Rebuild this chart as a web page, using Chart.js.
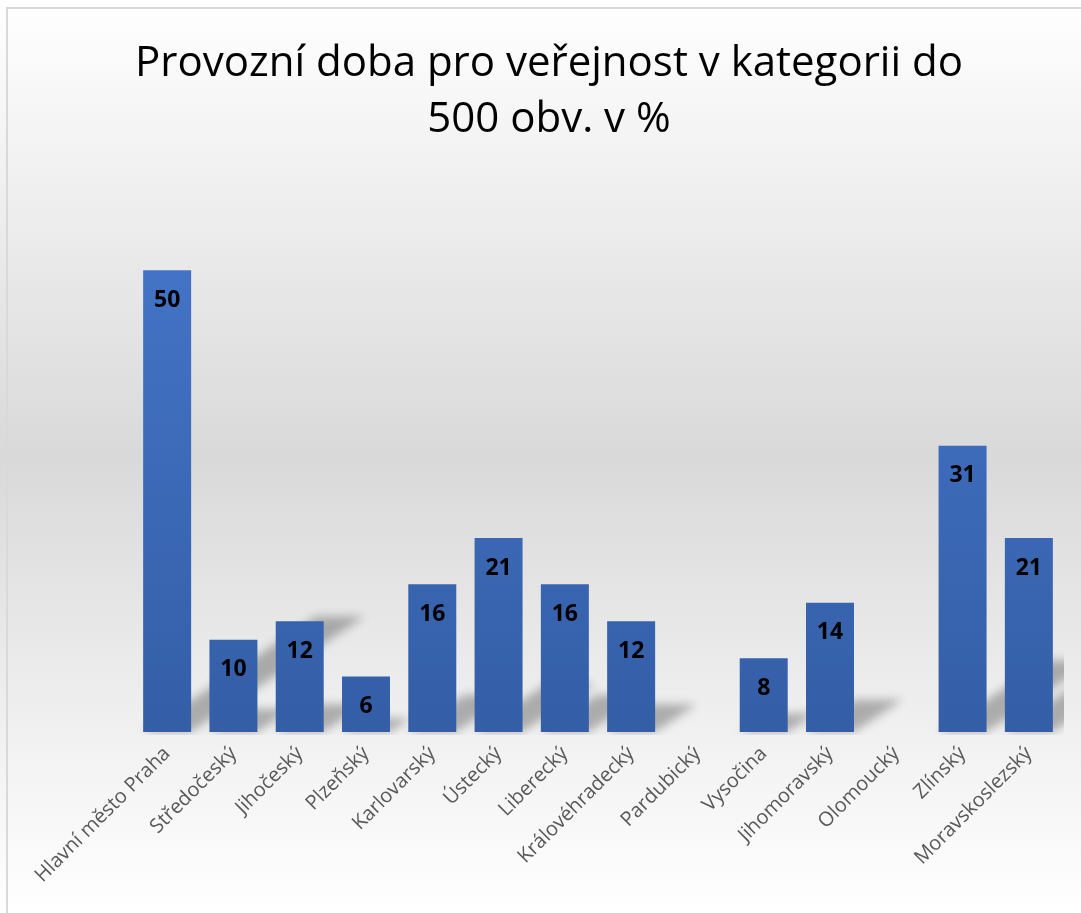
<!DOCTYPE html>
<html>
<head>
<meta charset="utf-8">
<script src="https://cdn.jsdelivr.net/npm/chart.js@4"></script>
<style>
html,body{margin:0;padding:0;background:#fff;}
#wrap{position:relative;width:1081px;height:913px;}
</style>
</head>
<body>
<div id="wrap"><canvas id="c" width="1081" height="913"></canvas></div>
<script>
const categories = ["Hlavní město Praha","Středočeský","Jihočeský","Plzeňský","Karlovarský","Ústecký","Liberecký","Královéhradecký","Pardubický","Vysočina","Jihomoravský","Olomoucký","Zlínský","Moravskoslezský"];
const values = [50,10,12,6,16,21,16,12,0,8,14,0,31,21];
const titleLines = ["Provozní doba pro veřejnost v kategorii do","500 obv. v %"];

const bgPlugin = {
  id:'bg',
  beforeDraw(chart){
    const ctx = chart.ctx, w = chart.width, h = chart.height;
    const g = ctx.createLinearGradient(0,0,0,h);
    g.addColorStop(0,'#ffffff');
    g.addColorStop(0.12,'#f6f6f6');
    g.addColorStop(0.5,'#d9d9d9');
    g.addColorStop(0.82,'#f2f2f2');
    g.addColorStop(1,'#ffffff');
    ctx.save();
    ctx.fillStyle = g;
    ctx.fillRect(0,0,w,h);
    ctx.strokeStyle = '#d9d9d9';
    ctx.lineWidth = 2;
    ctx.beginPath();
    ctx.moveTo(7,h+5); ctx.lineTo(7,8); ctx.lineTo(w+5,8);
    ctx.stroke();
    ctx.restore();
  }
};

const shadowPlugin = {
  id:'shadow',
  beforeDatasetsDraw(chart){
    const ctx = chart.ctx, a = chart.chartArea;
    const meta = chart.getDatasetMeta(0);
    ctx.save();
    ctx.beginPath();
    ctx.rect(a.left-20, a.top, a.right-a.left+22, a.bottom-a.top+3);
    ctx.clip();
    ctx.filter = 'blur(5px)';
    ctx.fillStyle = 'rgba(0,0,0,0.28)';
    meta.data.forEach(bar=>{
      const p = bar.getProps(['x','y','base','width'],true);
      const h = p.base - p.y;
      if(h<=0) return;
      const sh = h*0.25, dx = sh*1.5;
      const x0 = p.x - p.width/2, x1 = p.x + p.width/2;
      ctx.beginPath();
      ctx.moveTo(x0, p.base);
      ctx.lineTo(x1, p.base);
      ctx.lineTo(x1+dx, p.base-sh);
      ctx.lineTo(x0+dx, p.base-sh);
      ctx.closePath();
      ctx.fill();
    });
    ctx.restore();
  }
};

const labelPlugin = {
  id:'vals',
  afterDatasetsDraw(chart){
    const ctx = chart.ctx;
    const meta = chart.getDatasetMeta(0);
    ctx.save();
    ctx.font = 'bold 23px "Open Sans", sans-serif';
    ctx.fillStyle = '#000';
    ctx.textAlign = 'center';
    ctx.textBaseline = 'middle';
    meta.data.forEach((bar,i)=>{
      const v = values[i];
      if(!v) return;
      ctx.fillText(String(v), bar.x, bar.y + 30);
    });
    ctx.restore();
  }
};

const ctx = document.getElementById('c').getContext('2d');
function barGrad(context){
  const chart = context.chart;
  const a = chart.chartArea;
  if(!a) return '#4472c4';
  const g = chart.ctx.createLinearGradient(0,a.top,0,a.bottom);
  g.addColorStop(0,'#4677cc');
  g.addColorStop(1,'#345ea6');
  return g;
}
new Chart(ctx,{
  type:'bar',
  data:{labels:categories,datasets:[{data:values,backgroundColor:barGrad,borderWidth:0,barPercentage:0.724,categoryPercentage:1}]},
  plugins:[bgPlugin,shadowPlugin,labelPlugin],
  options:{
    responsive:false,
    animation:false,
    devicePixelRatio:1,
    layout:{padding:{left:17,right:0,top:0,bottom:0}},
    plugins:{
      legend:{display:false},
      tooltip:{enabled:false},
      title:{display:true,text:titleLines,color:'#000',font:{family:'"Open Sans", sans-serif',size:42,weight:'normal',lineHeight:1.333},padding:{top:36,bottom:30}}
    },
    scales:{
      x:{
        grid:{display:false,drawTicks:false},
        border:{display:false},
        ticks:{color:'#595959',font:{family:'"Open Sans", sans-serif',size:20},maxRotation:45,minRotation:45,padding:10,autoSkip:false},
        afterFit(s){ s.height = 913-732; }
      },
      y:{display:true,min:0,max:60,grid:{display:false},border:{display:false},ticks:{display:false},afterFit(s){ s.width = 117; }},
      y2:{type:'linear',position:'right',display:true,grid:{display:false},border:{display:false},ticks:{display:false},afterFit(s){ s.width = 19; }}
    }
  }
});
</script>
</body>
</html>
